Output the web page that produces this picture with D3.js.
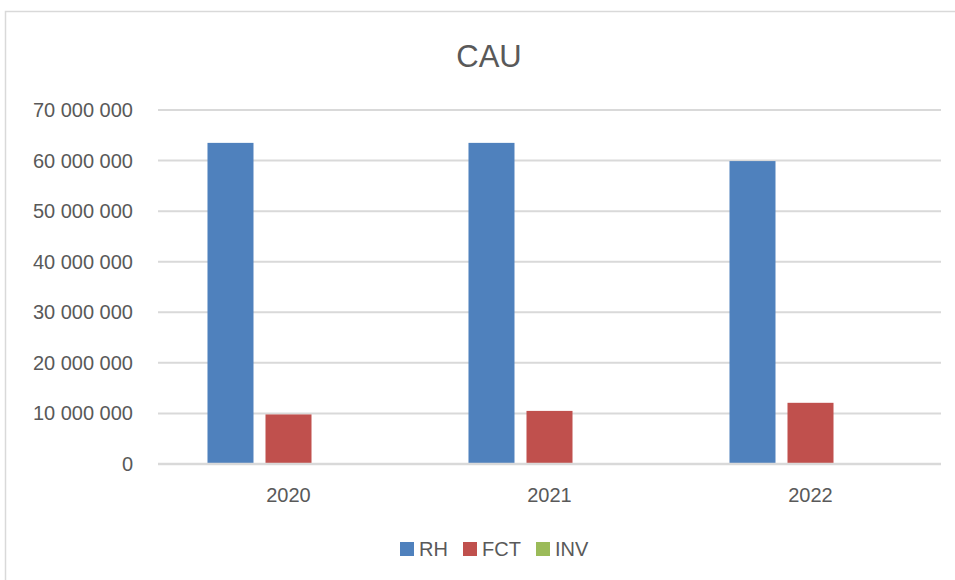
<!DOCTYPE html>
<html>
<head>
<meta charset="utf-8">
<script src="https://cdn.jsdelivr.net/npm/d3@7"></script>
<style>
  html, body { margin: 0; padding: 0; background: #fff; }
  svg { display: block; font-family: "Liberation Sans", Arial, sans-serif; }
</style>
</head>
<body>
<svg id="chart" width="955" height="580"></svg>
<script>
// data
const years = ["2020", "2021", "2022"];
const seriesNames = ["RH", "FCT", "INV"];
const rhValues = [63500000, 63500000, 59900000];
const fctValues = [9800000, 10500000, 12100000];
const invValues = [0, 0, 0];
const yTicks = [0, 10000000, 20000000, 30000000, 40000000, 50000000, 60000000, 70000000];
const colors = { RH: "#4F81BD", FCT: "#C0504D", INV: "#9BBB59" };

const rows = years.map((y, i) => ({ year: y, RH: rhValues[i], FCT: fctValues[i], INV: invValues[i] }));

const svg = d3.select("#chart");
const width = 955, height = 580;
const plot = { left: 158, right: 941, top: 110, bottom: 464 };

// chart border (right and bottom edges fall outside the window)
svg.append("rect")
  .attr("x", 5.5).attr("y", 11.5)
  .attr("width", 960).attr("height", 600)
  .attr("fill", "#fff")
  .attr("stroke", "#d9d9d9").attr("stroke-width", 1.5);

svg.append("text")
  .attr("x", 489).attr("y", 67)
  .attr("text-anchor", "middle")
  .style("font-size", "31px")
  .style("fill", "#595959")
  .text("CAU");

const y = d3.scaleLinear().domain([0, 70000000]).range([plot.bottom, plot.top]);
const x0 = d3.scaleBand().domain(years).range([plot.left, plot.right]).padding(0);
const x1 = d3.scaleBand().domain(seriesNames).range([0, x0.bandwidth()])
  .paddingInner(12 / 58).paddingOuter(0.853);

const fmt = v => d3.format(",")(v).replace(/,/g, " ");

// gridlines
svg.append("g").selectAll("line")
  .data(yTicks.filter(t => t > 0))
  .join("line")
  .attr("x1", plot.left).attr("x2", plot.right)
  .attr("y1", d => y(d)).attr("y2", d => y(d))
  .attr("stroke", "#d9d9d9").attr("stroke-width", 2);

// y labels
svg.append("g").selectAll("text")
  .data(yTicks)
  .join("text")
  .attr("x", 133).attr("y", d => y(d))
  .attr("dy", "0.35em")
  .attr("text-anchor", "end")
  .style("font-size", "20px")
  .style("fill", "#595959")
  .text(d => fmt(d));

// bars
const groups = svg.append("g").selectAll("g")
  .data(rows)
  .join("g")
  .attr("transform", d => `translate(${x0(d.year)},0)`);

groups.selectAll("rect")
  .data(d => seriesNames.map(s => ({ key: s, value: d[s] })))
  .join("rect")
  .attr("x", d => x1(d.key))
  .attr("width", x1.bandwidth())
  .attr("y", d => y(d.value))
  .attr("height", d => y(0) - y(d.value))
  .attr("fill", d => colors[d.key]);

// baseline
svg.append("line")
  .attr("x1", plot.left).attr("x2", plot.right)
  .attr("y1", y(0)).attr("y2", y(0))
  .attr("stroke", "#d9d9d9").attr("stroke-width", 2.5);

// category labels
svg.append("g").selectAll("text")
  .data(years)
  .join("text")
  .attr("x", d => x0(d) + x0.bandwidth() / 2)
  .attr("y", 502)
  .attr("text-anchor", "middle")
  .style("font-size", "20px")
  .style("fill", "#595959")
  .text(d => d);

// legend
const legendX = [400, 463, 536];
const legend = svg.append("g").selectAll("g")
  .data(seriesNames)
  .join("g")
  .attr("transform", (d, i) => `translate(${legendX[i]},542)`);

legend.append("rect")
  .attr("width", 14).attr("height", 14)
  .attr("fill", d => colors[d]);

legend.append("text")
  .attr("x", 19).attr("y", 14)
  .style("font-size", "20px")
  .style("fill", "#595959")
  .text(d => d);
</script>
</body>
</html>
